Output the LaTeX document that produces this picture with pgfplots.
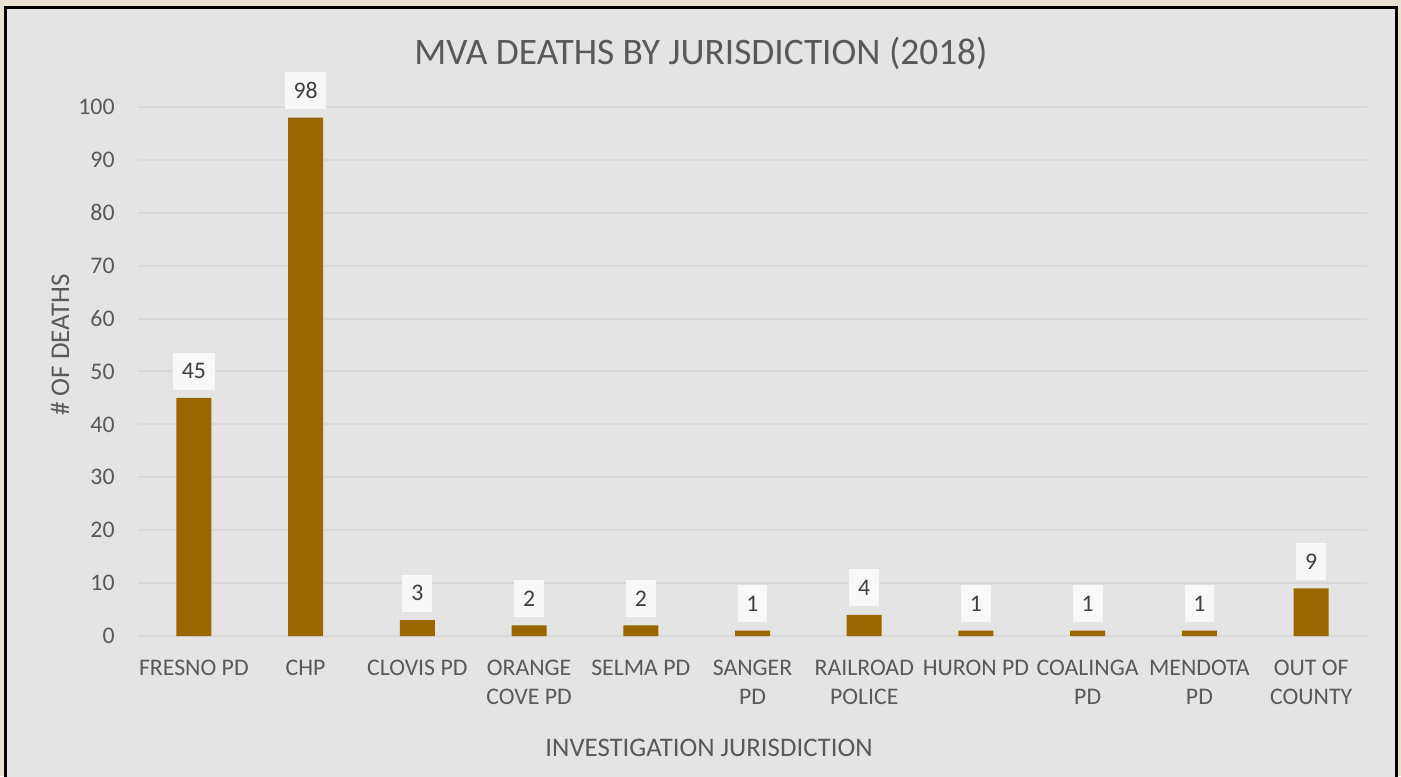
\documentclass[border=0pt]{standalone}
\usepackage{pgfplots}
\pgfplotsset{compat=1.18}
\usepackage{fontspec}
\setmainfont{Carlito}
\definecolor{parch}{RGB}{232,224,209}
\definecolor{panel}{RGB}{228,228,228}
\definecolor{barc}{RGB}{153,102,0}
\definecolor{txt}{RGB}{89,89,89}
\definecolor{gridc}{RGB}{217,217,217}
\definecolor{lblbox}{RGB}{248,248,248}
\definecolor{lbltxt}{RGB}{64,64,64}

\begin{document}
\begin{tikzpicture}[x=0.5pt,y=0.5pt]
\path[use as bounding box] (0,0) rectangle (1401,776);
\clip (0,0) rectangle (1401,776);
\fill[parch] (0,0) rectangle (1401,776);
\draw[black, line width=1.5pt, fill=panel] (5,768) rectangle (1396,-20);
\node[txt, font=\fontsize{18.7}{22}\selectfont] at (701,723) {MVA DEATHS BY JURISDICTION (2018)};
\node[txt, rotate=90, font=\fontsize{13.5}{16}\selectfont] at (60,431) {\# OF DEATHS};
\node[txt, font=\fontsize{13.4}{16}\selectfont] at (709,28) {INVESTIGATION JURISDICTION};
\begin{axis}[
    at={(69pt,70pt)}, anchor=south west,
    scale only axis, width=614.5pt, height=264.5pt,
    xmin=-0.5, xmax=10.5, ymin=0, ymax=100,
    ytick={0,10,...,100}, xtick={0,...,10},
    xticklabels={FRESNO PD, CHP, CLOVIS PD, {ORANGE\\COVE PD}, SELMA PD, {SANGER\\PD}, {RAILROAD\\POLICE}, HURON PD, {COALINGA\\PD}, {MENDOTA\\PD}, {OUT OF\\COUNTY}},
    axis line style={draw=none}, major tick length=0pt,
    ymajorgrids, grid style={gridc, line width=1pt},
    /pgf/number format/assume math mode=true,
    yticklabel style={anchor=east, inner sep=0pt, xshift=-11.5pt, text=txt, font=\fontsize{11.9}{14}\selectfont},
    xticklabel style={anchor=north, inner sep=0pt, yshift=-12pt, align=center, text=txt, font=\fontsize{11.9}{14.5}\selectfont},
    nodes near coords,
    nodes near coords style={fill=lblbox, text=lbltxt, inner xsep=4.4pt, inner ysep=0pt, minimum height=18.5pt, anchor=south, yshift=4pt, font=\fontsize{11.9}{14}\selectfont},
]
\addplot[ybar, bar width=17.5pt, fill=barc, draw=none] coordinates {
    (0,45) (1,98) (2,3) (3,2) (4,2) (5,1) (6,4) (7,1) (8,1) (9,1) (10,9)
};
\end{axis}
\end{tikzpicture}
\end{document}
